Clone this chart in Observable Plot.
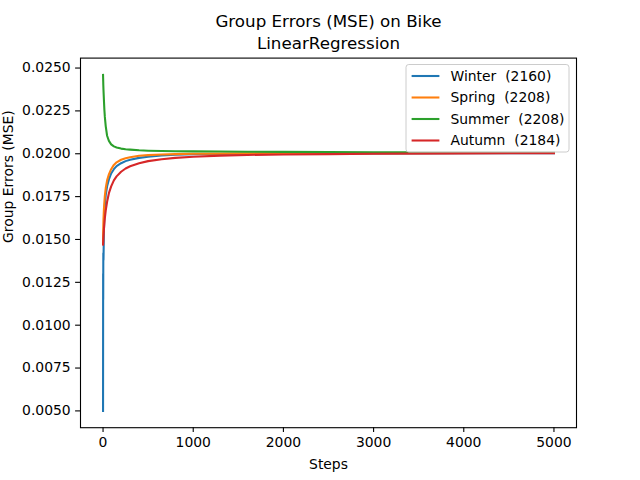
<!DOCTYPE html>
<html><head><meta charset="utf-8">
<script src="https://cdn.jsdelivr.net/npm/d3@7"></script>
<script src="https://cdn.jsdelivr.net/npm/@observablehq/plot@0.6"></script>
<style>
body{margin:0;background:#fff}
svg{font-family:"DejaVu Sans",sans-serif}
</style>
</head><body><div id="chart"></div>
<script>
const steps  = [0, 1, 2, 3, 5, 10, 15, 20, 30, 45, 65, 90, 120, 150, 200, 250, 300, 400, 500, 650, 800, 1000, 1300, 1600, 2000, 2500, 3000, 4000, 5000];
const winter = [0.00500, 0.01300, 0.01150, 0.01420, 0.01380, 0.01560, 0.01640, 0.01700, 0.01760, 0.01810, 0.01850, 0.01885, 0.01910, 0.01928, 0.01945, 0.01957, 0.01965, 0.01976, 0.01983, 0.01990, 0.01994, 0.01997, 0.01999, 0.02000, 0.02001, 0.02002, 0.02002, 0.02003, 0.02003];
const spring = [0.01480, 0.01520, 0.01550, 0.01580, 0.01620, 0.01680, 0.01720, 0.01755, 0.01800, 0.01845, 0.01880, 0.01910, 0.01935, 0.01950, 0.01965, 0.01974, 0.01980, 0.01988, 0.01992, 0.01996, 0.01998, 0.02000, 0.02001, 0.02002, 0.02002, 0.02003, 0.02003, 0.02004, 0.02004];
const summer = [0.02460, 0.02440, 0.02420, 0.02400, 0.02370, 0.02310, 0.02255, 0.02215, 0.02160, 0.02105, 0.02075, 0.02055, 0.02043, 0.02037, 0.02030, 0.02026, 0.02024, 0.02020, 0.02018, 0.02016, 0.02015, 0.02014, 0.02013, 0.02012, 0.02011, 0.02010, 0.02009, 0.02008, 0.02008];
const autumn = [0.01470, 0.01480, 0.01490, 0.01500, 0.01520, 0.01560, 0.01595, 0.01625, 0.01670, 0.01720, 0.01770, 0.01810, 0.01845, 0.01868, 0.01895, 0.01914, 0.01927, 0.01945, 0.01957, 0.01968, 0.01976, 0.01983, 0.01989, 0.01993, 0.01996, 0.01998, 0.02000, 0.02002, 0.02003];

const seriesNames  = ["Winter", "Spring", "Summer", "Autumn"];
const seriesCounts = [2160, 2208, 2208, 2184];
const colors = ["#1f77b4", "#ff7f0e", "#2ca02c", "#d62728"];
const xTicks = [0, 1000, 2000, 3000, 4000, 5000];
const yTicks = [0.0050, 0.0075, 0.0100, 0.0125, 0.0150, 0.0175, 0.0200, 0.0225, 0.0250];
const titleLines = ["Group Errors (MSE) on Bike", "LinearRegression"];
const xLabel = "Steps";
const yLabel = "Group Errors (MSE)";

const data = [];
[winter, spring, summer, autumn].forEach((vals, i) =>
  vals.forEach((v, j) => data.push({step: steps[j], mse: v, group: seriesNames[i]})));

const FS = 13.9;
const plot = Plot.plot({
  width: 640, height: 480,
  marginLeft: 80, marginRight: 64, marginTop: 57.6, marginBottom: 52.8,
  style: {fontFamily: "DejaVu Sans", fontSize: FS + "px", color: "black", background: "white", overflow: "visible"},
  x: {domain: [-250, 5250], label: null},
  y: {domain: [0.00402, 0.02558], label: null},
  color: {domain: seriesNames, range: colors},
  marks: [
    Plot.axisX({ticks: xTicks, tickSize: 4.9, tickPadding: 4.9, tickFormat: d3.format("d"), fontSize: FS, label: null, strokeWidth: 1.1}),
    Plot.axisY({ticks: yTicks, tickSize: 4.9, tickPadding: 4.9, tickFormat: d3.format(".4f"), fontSize: FS, label: null, strokeWidth: 1.1}),
    Plot.line(data, {x: "step", y: "mse", z: "group", stroke: "group", strokeWidth: 2.08, strokeLinejoin: "round", strokeLinecap: "square"}),
    Plot.frame({stroke: "black", strokeWidth: 1.1}),
    Plot.text([titleLines[0]], {frameAnchor: "top", dy: -42.5, fontSize: 16.7, fill: "black"}),
    Plot.text([titleLines[1]], {frameAnchor: "top", dy: -20.5, fontSize: 16.7, fill: "black"}),
    Plot.text([xLabel], {frameAnchor: "bottom", dy: 41, fontSize: FS, fill: "black"}),
    Plot.text([yLabel], {frameAnchor: "left", dx: -72, rotate: -90, fontSize: FS, fill: "black"})
  ]
});
document.getElementById("chart").appendChild(plot);

// legend (upper right, matplotlib style)
const svg = d3.select(plot);
const lg = svg.append("g").attr("text-anchor", "start");
const bx = 406, by = 64.5, bw = 163, bh = 87.5;
lg.append("rect").attr("x", bx).attr("y", by).attr("width", bw).attr("height", bh)
  .attr("rx", 2.8).attr("fill", "white").attr("fill-opacity", 0.8)
  .attr("stroke", "#cccccc").attr("stroke-width", 1);
seriesNames.forEach((name, i) => {
  const yy = 76 + i * 21.5;
  lg.append("line").attr("x1", 411.6).attr("x2", 439.4).attr("y1", yy).attr("y2", yy)
    .attr("stroke", colors[i]).attr("stroke-width", 2.08);
  lg.append("text").attr("x", 450.5).attr("y", yy).attr("dy", "0.35em")
    .attr("text-anchor", "start")
    .attr("font-size", FS).attr("fill", "black").style("white-space", "pre")
    .text(name + "  (" + seriesCounts[i] + ")");
});
</script>
</body></html>
